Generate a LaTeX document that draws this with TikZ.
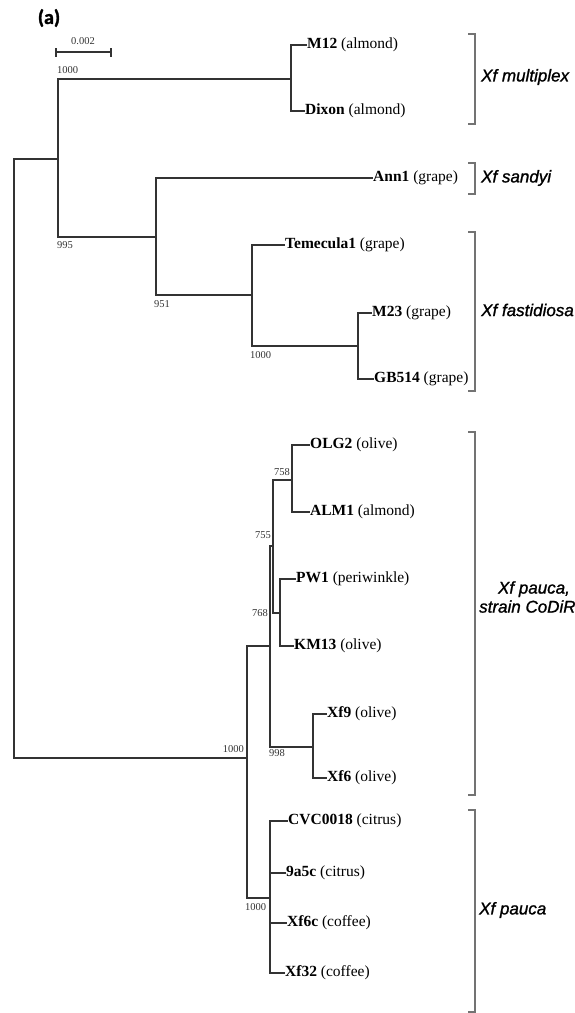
\documentclass[tikz,border=0pt]{standalone}
\usepackage{fontspec}
\setmainfont{Liberation Serif}
\newfontfamily\grpfont[FakeBold=1.2]{Liberation Sans}
\newfontfamily\panelfont[BoldFeatures={FakeBold=1.5}]{Carlito}
\begin{document}
\begin{tikzpicture}[x=1pt,y=-1pt,
  branch/.style={line width=1.2pt,draw=black!80},
  bracketline/.style={line width=1.4pt,draw=black!55},
  leaf/.style={anchor=west,inner sep=0pt,font=\fontsize{15.5}{17}\selectfont},
  boot/.style={inner sep=0pt,font=\fontsize{10.5}{12}\selectfont,text=black!80},
  grp/.style={anchor=west,inner sep=0pt,font=\grpfont\itshape\fontsize{17}{20}\selectfont}]
\useasboundingbox (0,0) rectangle (574,1013);

% panel label and scale bar
\node[inner sep=0pt,font=\panelfont\bfseries\fontsize{20}{22}\selectfont] (panel) at (49,18) {(a)};
\coordinate (sbL) at (56,52);
\coordinate (sbR) at (111,52);
\draw[branch] (sbL) -- (sbR);
\draw[branch] ([yshift=-4.5pt]sbL) -- ([yshift=4.5pt]sbL);
\draw[branch] ([yshift=-4.5pt]sbR) -- ([yshift=4.5pt]sbR);
\node[boot] (sblabel) at (83,41) {0.002};

% internal nodes
\coordinate (R) at (14,458);
\coordinate (A) at (58,159);
\coordinate (Hm) at (291,79);
\coordinate (B) at (156,237);
\coordinate (C) at (252,295);
\coordinate (D) at (358,346);
\coordinate (E) at (247,758);
\coordinate (F) at (270,646);
\coordinate (G) at (273,546);
\coordinate (Ho) at (292,480);
\coordinate (I) at (280,613);
\coordinate (J) at (313,747);
\coordinate (K) at (270,898);

% leaves
\node[leaf] (M12) at (307,45) {\textbf{M12} (almond)};
\node[leaf] (Dixon) at (305,111) {\textbf{Dixon} (almond)};
\node[leaf] (Ann1) at (373,178) {\textbf{Ann1} (grape)};
\node[leaf] (Tem) at (285,245) {\textbf{Temecula1} (grape)};
\node[leaf] (M23) at (372,313) {\textbf{M23} (grape)};
\node[leaf] (GB) at (374,379) {\textbf{GB514} (grape)};
\node[leaf] (OLG2) at (310,445) {\textbf{OLG2} (olive)};
\node[leaf] (ALM1) at (310,512) {\textbf{ALM1} (almond)};
\node[leaf] (PW1) at (296,579) {\textbf{PW1} (periwinkle)};
\node[leaf] (KM13) at (294,646) {\textbf{KM13} (olive)};
\node[leaf] (Xf9) at (327,714) {\textbf{Xf9} (olive)};
\node[leaf] (Xf6) at (327,778) {\textbf{Xf6} (olive)};
\node[leaf] (CVC) at (288,821) {\textbf{CVC0018} (citrus)};
\node[leaf] (N9a5c) at (286,873) {\textbf{9a5c} (citrus)};
\node[leaf] (Xf6c) at (287,923) {\textbf{Xf6c} (coffee)};
\node[leaf] (Xf32) at (285,973) {\textbf{Xf32} (coffee)};

% branches
\draw[branch] (A) -| (R) |- (E);
\draw[branch] (Hm) -| (A) |- (B);
\draw[branch] (M12.west) -| (Hm) |- (Dixon.west);
\draw[branch] (Ann1.west) -| (B) |- (C);
\draw[branch] (Tem.west) -| (C) |- (D);
\draw[branch] (M23.west) -| (D) |- (GB.west);
\draw[branch] (F) -| (E) |- (K);
\draw[branch] (G) -| (F) |- (J);
\draw[branch] (Ho) -| (G) |- (I);
\draw[branch] (OLG2.west) -| (Ho) |- (ALM1.west);
\draw[branch] (PW1.west) -| (I) |- (KM13.west);
\draw[branch] (Xf9.west) -| (J) |- (Xf6.west);
\draw[branch] (CVC.west) -| (K) |- (Xf32.west);
\draw[branch] (K |- N9a5c.west) -- (N9a5c.west);
\draw[branch] (K |- Xf6c.west) -- (Xf6c.west);

% bootstrap values
\node[boot,anchor=west] (b1) at (57,70) {1000};
\node[boot,anchor=west] (b2) at (57,245) {995};
\node[boot,anchor=west] (b3) at (154,304) {951};
\node[boot,anchor=west] (b4) at (250,355) {1000};
\node[boot,anchor=east] (b5) at (290,472) {758};
\node[boot,anchor=east] (b6) at (271,535) {755};
\node[boot,anchor=east] (b7) at (268,613) {768};
\node[boot,anchor=west] (b8) at (269,753) {998};
\node[boot,anchor=east] (b9) at (244,749) {1000};
\node[boot,anchor=west] (b10) at (245,907) {1000};

% brackets
\draw[bracketline] (468,34) -- (475,34) -- (475,124) -- (468,124);
\draw[bracketline] (468,163) -- (475,163) -- (475,194) -- (468,194);
\draw[bracketline] (468,232) -- (475,232) -- (475,391) -- (468,391);
\draw[bracketline] (468,432) -- (475,432) -- (475,795) -- (468,795);
\draw[bracketline] (468,810) -- (475,810) -- (475,1012) -- (468,1012);

% group labels
\node[grp] (gmult) at (481,77) {Xf multiplex};
\node[grp] (gsand) at (481,178) {Xf sandyi};
\node[grp] (gfast) at (481,310) {Xf fastidiosa};
\node[inner sep=0pt,align=center,font=\grpfont\itshape\fontsize{17}{19}\selectfont] (gcod) at (534,597) {Xf pauca,\\strain CoDiRO};
\node[grp] (gpauca) at (479,910) {Xf pauca};
\end{tikzpicture}
\end{document}
